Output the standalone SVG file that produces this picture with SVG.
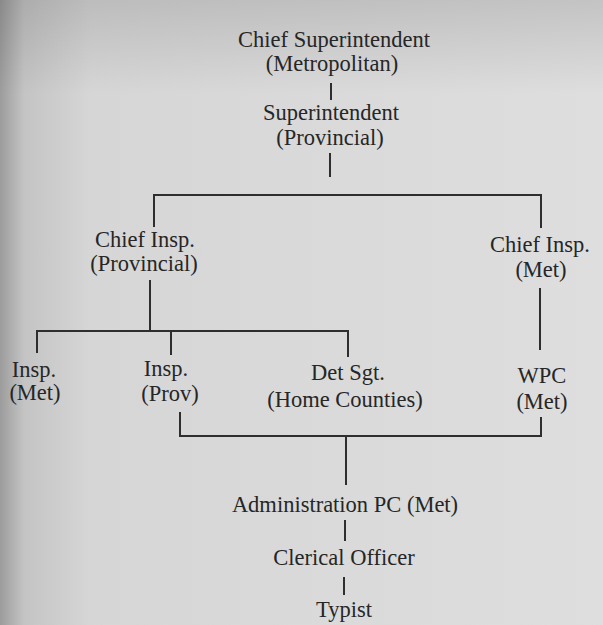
<svg xmlns="http://www.w3.org/2000/svg" width="603" height="625" viewBox="0 0 603 625">
<defs>
<linearGradient id="paper" x1="0" y1="0" x2="1" y2="0">
<stop offset="0" stop-color="#9c9c9c"/>
<stop offset="0.04" stop-color="#c4c4c4"/>
<stop offset="0.15" stop-color="#d6d6d6"/>
<stop offset="1" stop-color="#dedede"/>
</linearGradient>
<linearGradient id="topshade" x1="0" y1="0" x2="0" y2="1">
<stop offset="0" stop-color="#000" stop-opacity="0.12"/>
<stop offset="0.15" stop-color="#000" stop-opacity="0"/>
<stop offset="1" stop-color="#000" stop-opacity="0"/>
</linearGradient>
<style>
.t{font-family:"Liberation Serif","Times New Roman",serif;font-size:22.5px;fill:#262626;text-anchor:middle}
.c{stroke:#2e2e2e;stroke-width:2;fill:none}
</style>
</defs>
<rect width="603" height="625" fill="url(#paper)"/>
<rect width="603" height="625" fill="url(#topshade)"/>
<g id="connectors" class="c">
<line x1="331" y1="83" x2="331" y2="100"/>
<line x1="330" y1="153" x2="330" y2="177"/>
<path d="M154,227 V195 H541 V228"/>
<line x1="150" y1="280" x2="150" y2="331"/>
<path d="M37,353 V331 H348 V357"/>
<line x1="171" y1="331" x2="171" y2="355"/>
<line x1="540" y1="288" x2="540" y2="350"/>
<path d="M180,412 V436 H541 V417"/>
<line x1="346" y1="436" x2="346" y2="485"/>
<line x1="345" y1="520" x2="345" y2="541"/>
<line x1="344" y1="577" x2="344" y2="595"/>
</g>
<g id="chief-superintendent"><text class="t" x="334" y="47">Chief Superintendent</text><text class="t" x="332" y="71">(Metropolitan)</text></g>
<g id="superintendent"><text class="t" x="331" y="120">Superintendent</text><text class="t" x="330" y="145">(Provincial)</text></g>
<g id="chief-insp-provincial"><text class="t" x="145" y="247">Chief Insp.</text><text class="t" x="144" y="271">(Provincial)</text></g>
<g id="chief-insp-met"><text class="t" x="540" y="252">Chief Insp.</text><text class="t" x="541" y="277">(Met)</text></g>
<g id="insp-met"><text class="t" x="34" y="377">Insp.</text><text class="t" x="35" y="400">(Met)</text></g>
<g id="insp-prov"><text class="t" x="166" y="376">Insp.</text><text class="t" x="170" y="401">(Prov)</text></g>
<g id="det-sgt"><text class="t" x="348" y="380">Det Sgt.</text><text class="t" x="345" y="407">(Home Counties)</text></g>
<g id="wpc"><text class="t" x="542" y="383">WPC</text><text class="t" x="542" y="409">(Met)</text></g>
<g id="admin-pc"><text class="t" x="345" y="512">Administration PC (Met)</text></g>
<g id="clerical-officer"><text class="t" x="344" y="565">Clerical Officer</text></g>
<g id="typist"><text class="t" x="344" y="617">Typist</text></g>
</svg>
